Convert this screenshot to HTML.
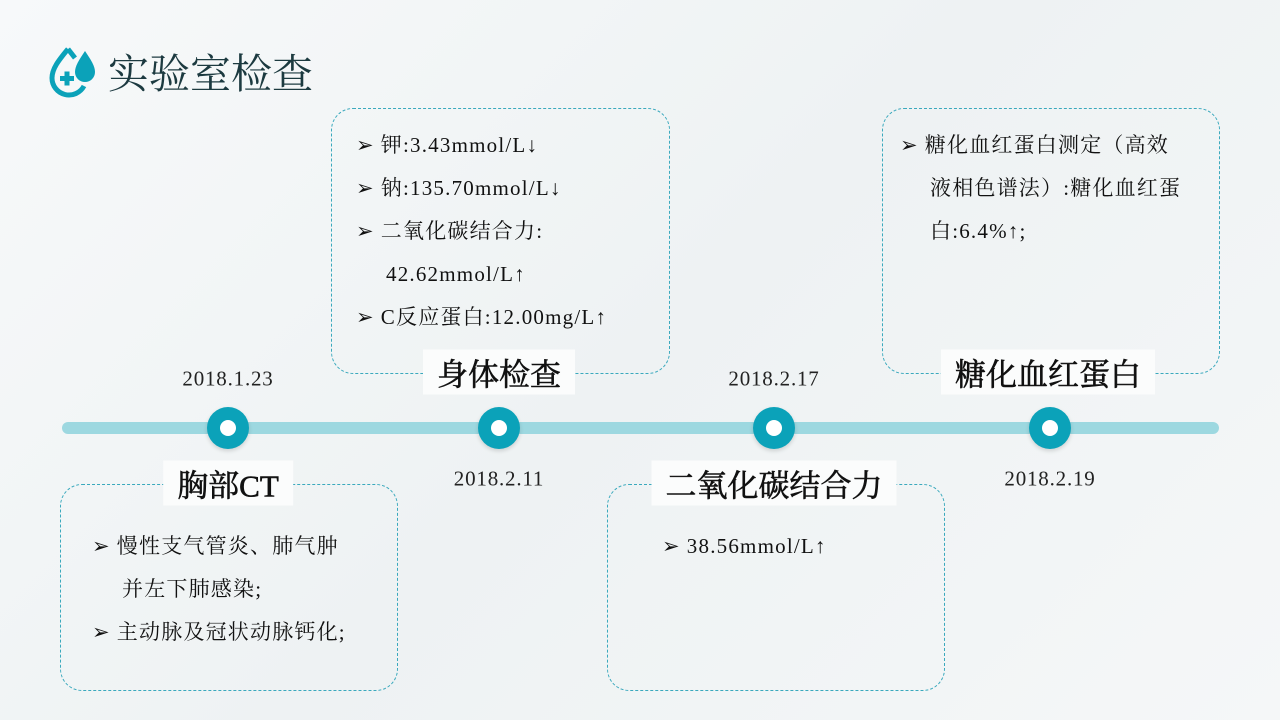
<!DOCTYPE html>
<html><head><meta charset="utf-8"><style>
body{margin:0;width:1280px;height:720px;overflow:hidden;background:linear-gradient(135deg,#f7f9fa,#eef2f3 50%,#f5f7f8);font-family:"Liberation Serif","Noto Serif CJK SC",serif;color:#111;position:relative}
.a{position:absolute}
.box{position:absolute;border:1.3px dashed #3aa9bd;border-radius:22px}
.t{position:absolute;font-size:31px;transform:translate(-50%,-50%);background:#fbfcfc;padding:0 14px;white-space:nowrap;-webkit-text-stroke:0.6px #111}
.d{position:absolute;font-size:21px;transform:translate(-50%,-50%);white-space:nowrap;color:#222;letter-spacing:0.8px}
.l{position:absolute;font-size:21px;white-space:nowrap;line-height:43px;letter-spacing:1.2px}
.c{position:absolute;width:42px;height:42px;border-radius:50%;background:#0ba2b9;transform:translate(-50%,-50%);box-shadow:0 2px 4px rgba(0,0,0,.15)}
.c:after{content:"";position:absolute;left:13px;top:13px;width:16px;height:16px;border-radius:50%;background:#fff}
.i{display:inline-block;width:30px}
</style></head><body>
<svg class="a" style="left:48px;top:45px" width="52" height="56" viewBox="0 0 52 56">
<path d="M20 4 C10 16 4 24 4 33 a17 17 0 0 0 32 8" fill="none" stroke="#0ba2b9" stroke-width="5"/>
<path d="M20 4 L27 13" stroke="#0ba2b9" stroke-width="5"/>
<path d="M37 6 C31 15 27 21 27 27 a10 10 0 0 0 20 0 C47 21 43 15 37 6Z" fill="#0ba2b9"/>
<rect x="12" y="31" width="14" height="5" fill="#0ba2b9"/><rect x="16.5" y="26.5" width="5" height="14" fill="#0ba2b9"/>
</svg>
<div class="a" style="left:108px;top:46px;font-size:41px;color:#1c3a40;line-height:56px">实验室检查</div>

<div class="a" style="left:62px;top:422px;width:1157px;height:12px;border-radius:6px;background:#9dd8e0"></div>

<div class="box" style="left:60px;top:484px;width:336px;height:205px"></div>
<div class="box" style="left:331px;top:108px;width:337px;height:264px"></div>
<div class="box" style="left:607px;top:484px;width:336px;height:205px"></div>
<div class="box" style="left:882px;top:108px;width:336px;height:264px"></div>

<div class="t" style="left:228px;top:483px">胸部CT</div>
<div class="t" style="left:499px;top:372px">身体检查</div>
<div class="t" style="left:774px;top:483px">二氧化碳结合力</div>
<div class="t" style="left:1048px;top:372px">糖化血红蛋白</div>

<div class="d" style="left:228px;top:379px">2018.1.23</div>
<div class="d" style="left:499px;top:479px">2018.2.11</div>
<div class="d" style="left:774px;top:379px">2018.2.17</div>
<div class="d" style="left:1050px;top:479px">2018.2.19</div>

<div class="c" style="left:228px;top:428px"></div>
<div class="c" style="left:499px;top:428px"></div>
<div class="c" style="left:774px;top:428px"></div>
<div class="c" style="left:1050px;top:428px"></div>

<div class="l" style="left:356px;top:124px">➢<span style="display:inline-block;width:6px"></span>钾:3.43mmol/L↓<br>➢<span style="display:inline-block;width:6px"></span>钠:135.70mmol/L↓<br>➢<span style="display:inline-block;width:6px"></span>二氧化碳结合力:<br><span class="i"></span>42.62mmol/L↑<br>➢<span style="display:inline-block;width:6px"></span>C反应蛋白:12.00mg/L↑</div>
<div class="l" style="left:900px;top:124px">➢<span style="display:inline-block;width:6px"></span>糖化血红蛋白测定（高效<br><span class="i"></span>液相色谱法）:糖化血红蛋<br><span class="i"></span>白:6.4%↑;</div>
<div class="l" style="left:92px;top:525px">➢<span style="display:inline-block;width:6px"></span>慢性支气管炎、肺气肿<br><span class="i"></span>并左下肺感染;<br>➢<span style="display:inline-block;width:6px"></span>主动脉及冠状动脉钙化;</div>
<div class="l" style="left:662px;top:525px">➢<span style="display:inline-block;width:6px"></span>38.56mmol/L↑</div>
</body></html>
